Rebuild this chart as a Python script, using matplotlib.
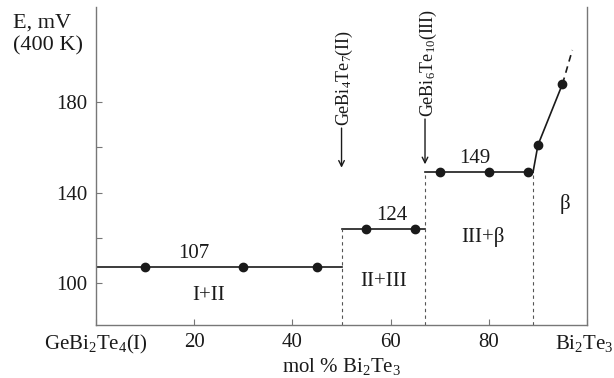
import matplotlib
matplotlib.use("Agg")
import matplotlib.pyplot as plt
from matplotlib.transforms import ScaledTranslation

plt.rcParams['font.family'] = ['Liberation Serif', 'DejaVu Serif']
plt.rcParams['mathtext.fontset'] = 'custom'
plt.rcParams['mathtext.rm'] = 'Liberation Serif'
plt.rcParams['mathtext.it'] = 'Liberation Serif:italic'

# plateaus (x from, x to, E)
plateau_x = [(0, 50), (50, 67), (67, 89)]
plateau_e = [107, 124, 149]
plateau_labels = ["107", "124", "149"]

# measured points on plateaus
pts_x = [[10, 30, 45], [55, 65], [70, 80, 88]]

# rising branch in beta region
rise_x = [89, 90, 95]
rise_e = [149, 161, 188]
rise_ext_x = [95, 97]
rise_ext_e = [188, 203]

# phase boundaries (dashed)
bound_x = [50, 67, 89]
bound_top = [124, 149, 149]

region_labels = ["I+II", "II+III", "III+β", "β"]
region_pos = [(23, 94.5), (58.5, 100.5), (78.8, 120.5), (95.5, 135)]
label_pos = [(20, 113), (60.3, 130), (77.2, 155)]

compounds = ["GeBi$_4$Te$_7$(II)", "GeBi$_6$Te$_{10}$(III)"]
compound_x = [50, 67]

xticks = [0, 20, 40, 60, 80, 100]
xticklabels = ["GeBi$_2$Te$_4$(I)", "20", "40", "60", "80", "Bi$_2$Te$_3$"]

line_c = "#1a1a1a"
fs = 15

fig = plt.figure(figsize=(6.14, 3.78), dpi=100)
ax = fig.add_axes([0.1564, 0.1402, 0.7997, 0.8413])

for (x0, x1), e in zip(plateau_x, plateau_e):
    ax.plot([x0, x1], [e, e], color=line_c, lw=1.2)
for xs, e in zip(pts_x, plateau_e):
    ax.plot(xs, [e] * len(xs), 'o', color=line_c, ms=6)

ax.plot(rise_x, rise_e, color=line_c, lw=1.2)
ax.plot(rise_x[1:], rise_e[1:], 'o', color=line_c, ms=6)
ax.plot(rise_ext_x, rise_ext_e, color=line_c, lw=1.2, ls=(0, (4, 3)))

for bx, top in zip(bound_x, bound_top):
    ax.plot([bx, bx], [81.5, top], color="#555555", lw=0.8, ls=(0, (3, 3)))

for (x, y), t in zip(label_pos, plateau_labels):
    ax.text(x, y, t, ha='center', va='center', fontsize=fs, color=line_c)
for (x, y), t in zip(region_pos, region_labels):
    ax.text(x, y, t, ha='center', va='center', fontsize=fs, color=line_c)

arrow_start = [168.5, 172.5]
arrow_end = [151, 152.5]
for cx, t, y0, y1 in zip(compound_x, compounds, arrow_start, arrow_end):
    ax.annotate("", xy=(cx, y1), xytext=(cx, y0),
                arrowprops=dict(arrowstyle='->', color=line_c, lw=1.0,
                                shrinkA=0, shrinkB=0))
    ax.text(cx + 0.6, y0 + 0.8, t, rotation=90, ha='center', va='bottom',
            fontsize=13, color=line_c)

ax.set_xlim(0, 100)
ax.set_ylim(81.5, 222)
ax.set_xticks(xticks)
ax.set_xticklabels(xticklabels)
ax.set_yticks([100, 120, 140, 160, 180])
ax.set_yticklabels(["100", "", "140", "", "180"])
ax.tick_params(direction='in', length=4, width=0.8, color="#777777",
               labelsize=fs, labelcolor=line_c, pad=6)
ax.tick_params(axis='x', which='both', top=False)
# keep the last label inside the picture
last = ax.get_xticklabels()[-1]
last.set_transform(last.get_transform() + ScaledTranslation(-3 / 100, 0, fig.dpi_scale_trans))

ax.spines['top'].set_visible(False)
for s in ['left', 'bottom', 'right']:
    ax.spines[s].set_color("#777777")
    ax.spines[s].set_linewidth(1.0)

ax.set_xlabel("mol % Bi$_2$Te$_3$", fontsize=fs, color=line_c, labelpad=0)
fig.text(0.021, 0.965, "E, mV\n(400 K)", ha='left', va='top', fontsize=16,
         color=line_c, linespacing=1.3)

fig.savefig("out.png", dpi=100)
